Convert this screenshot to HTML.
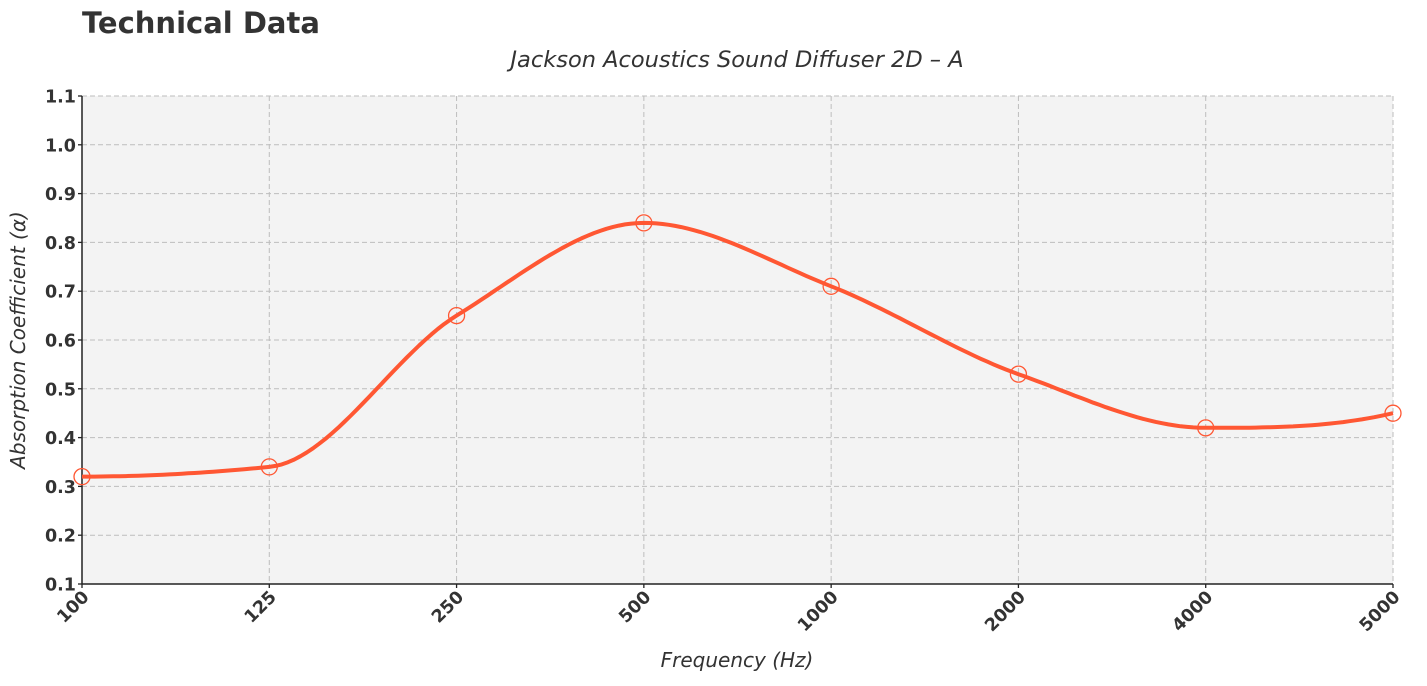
<!DOCTYPE html>
<html><head><meta charset="utf-8"><style>
body{margin:0;background:#fff;width:1427px;height:682px;overflow:hidden;font-family:"DejaVu Sans","Liberation Sans",sans-serif}
</style></head><body>
<svg id="chart" width="1427" height="682" xmlns="http://www.w3.org/2000/svg">
<text x="82" y="33" font-family="DejaVu Sans, sans-serif" font-weight="bold" font-size="29" fill="#333">Technical Data</text>
<text x="737" y="67" text-anchor="middle" font-family="DejaVu Sans, sans-serif" font-style="italic" font-size="22.5" fill="#333">Jackson Acoustics Sound Diffuser 2D – A</text>
<rect x="82" y="96" width="1311" height="488" fill="#f3f3f3"/>
<g id="grid"></g><g id="axes"></g><g id="series"></g>
<text x="737" y="667" text-anchor="middle" font-style="italic" font-size="20" fill="#333">Frequency (Hz)</text>
<text transform="translate(25,340) rotate(-90)" text-anchor="middle" font-style="italic" font-size="20" fill="#333">Absorption Coefficient (α)</text>
</svg>
<script>
const categories=["100","125","250","500","1000","2000","4000","5000"];
const values=[0.32,0.34,0.65,0.84,0.71,0.53,0.42,0.45];
const yTicks=[0.1,0.2,0.3,0.4,0.5,0.6,0.7,0.8,0.9,1.0,1.1];
const X0=82,X1=1393,Y0=584,Y1=96,ymin=0.1,ymax=1.1;
const NS="http://www.w3.org/2000/svg";
function xs(i){return X0+i*(X1-X0)/(categories.length-1);}
function ys(v){return Y0-(v-ymin)/(ymax-ymin)*(Y0-Y1);}
function mk(t,a,p){const e=document.createElementNS(NS,t);for(const k in a)e.setAttribute(k,a[k]);p.appendChild(e);return e;}
const grid=document.getElementById('grid'),axes=document.getElementById('axes'),series=document.getElementById('series');
yTicks.forEach(v=>{
 const y=ys(v);
 const l=mk('line',{x1:X0,x2:X1,y1:y,y2:y,stroke:'#bdbdbd','stroke-dasharray':'5,3','stroke-width':1},grid);
 
 
 mk('line',{x1:X0-4,x2:X0,y1:y,y2:y,stroke:'#222','stroke-width':1.3},axes);
 const t=mk('text',{x:X0-6,y:y+6.5,'text-anchor':'end','font-weight':'bold','font-size':17.5,fill:'#333'},axes);
 t.textContent=v.toFixed(1);
 
 
});
categories.forEach((c,i)=>{
 const x=xs(i);
 const l=mk('line',{x1:x,x2:x,y1:Y1,y2:Y0,stroke:'#bdbdbd','stroke-dasharray':'5,3','stroke-width':1},grid);
 
 
 mk('line',{x1:x,x2:x,y1:Y0,y2:Y0+4,stroke:'#222','stroke-width':1.3},axes);
 const t=mk('text',{transform:`translate(${x+8},${Y0+14}) rotate(-45)`,'text-anchor':'end','font-weight':'bold','font-size':17.5,fill:'#333'},axes);
 t.textContent=c;
 
 
});
mk('line',{x1:X0,x2:X0,y1:Y1,y2:Y0,stroke:'#222','stroke-width':1.5},axes);
mk('line',{x1:X0,x2:X1,y1:Y0,y2:Y0,stroke:'#222','stroke-width':1.5},axes);
// PCHIP monotone cubic
const n=values.length;const del=[];for(let i=0;i<n-1;i++)del.push(values[i+1]-values[i]);
const dv=new Array(n).fill(0);
for(let i=1;i<n-1;i++){if(del[i-1]*del[i]>0)dv[i]=2/(1/del[i-1]+1/del[i]);}
function endSlope(d0,d1){let d=(3*d0-d1)/2;if(Math.sign(d)!==Math.sign(d0))d=0;else if(Math.sign(d0)!==Math.sign(d1)&&Math.abs(d)>Math.abs(3*d0))d=3*d0;return d;}
dv[0]=endSlope(del[0],del[1]);dv[n-1]=endSlope(del[n-2],del[n-3]);
let dstr='';
for(let i=0;i<n-1;i++){for(let k=0;k<=30;k++){const t=k/30;
 const h00=2*t*t*t-3*t*t+1,h10=t*t*t-2*t*t+t,h01=-2*t*t*t+3*t*t,h11=t*t*t-t*t;
 const v=h00*values[i]+h10*dv[i]+h01*values[i+1]+h11*dv[i+1];
 const px=xs(i+t),py=ys(v);dstr+=(dstr?'L':'M')+px.toFixed(1)+','+py.toFixed(1);}}
const line=mk('path',{d:dstr,fill:'none',stroke:'#ff5733','stroke-width':4,'stroke-linejoin':'round'},series);


values.forEach((v,i)=>{
 const c=mk('circle',{cx:xs(i),cy:ys(v),r:8,fill:'none',stroke:'#ff5733','stroke-width':1.3},series);
 
 
});
</script>
</body></html>
